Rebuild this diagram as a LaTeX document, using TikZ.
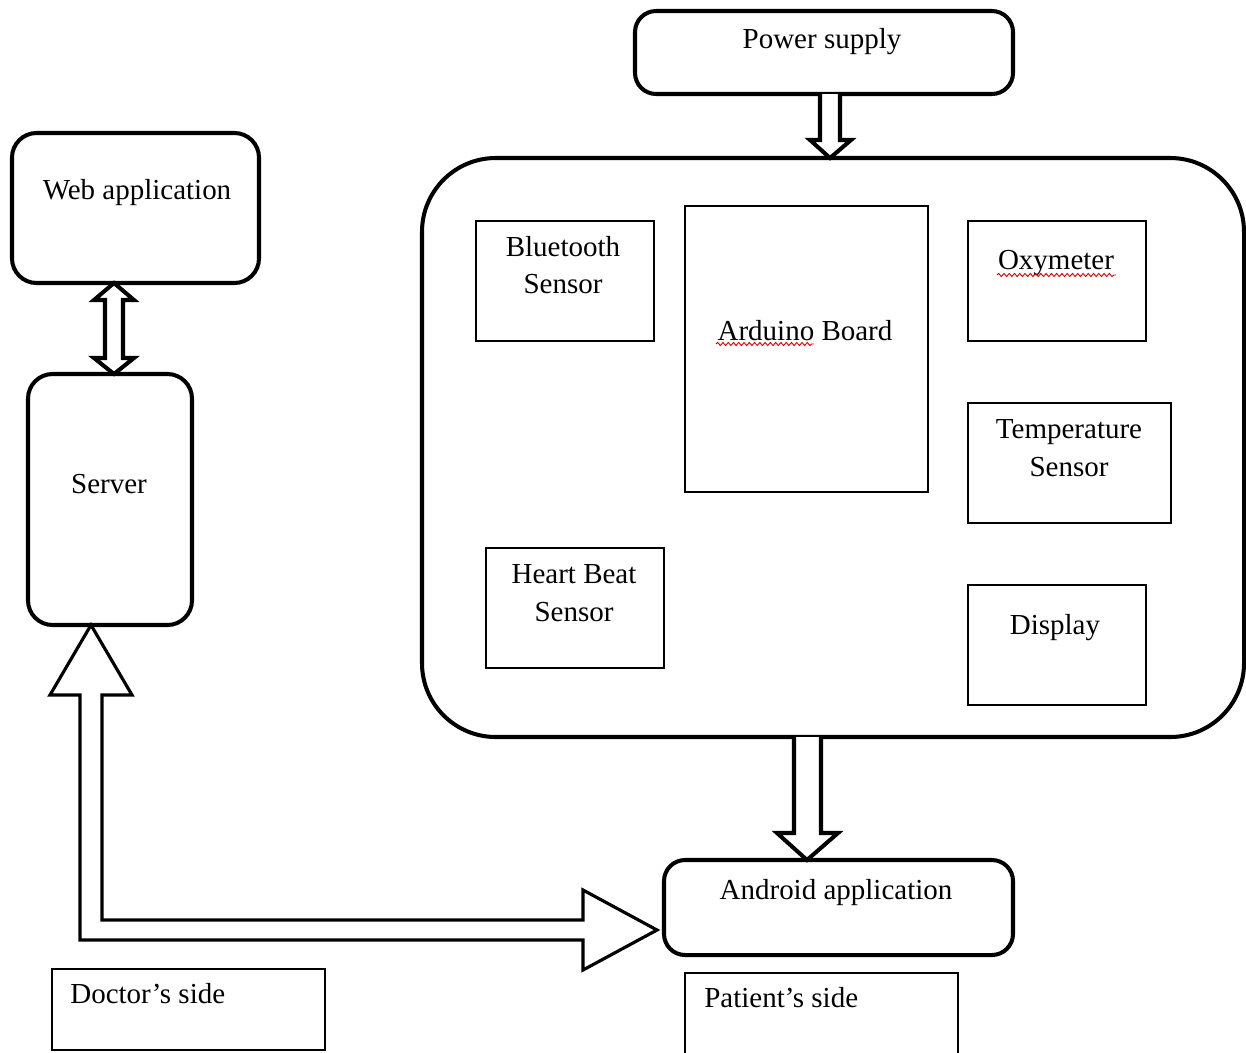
\documentclass[tikz,border=0pt]{standalone}
\usepackage{fontspec}
\setmainfont{Liberation Serif}
\usetikzlibrary{fit,decorations.pathmorphing}
\begin{document}
\begin{tikzpicture}[x=0.02cm,y=-0.02cm,
  thickbox/.style={draw, line width=2.3pt, inner sep=0pt},
  thinbox/.style={draw, line width=0.9pt, inner sep=0pt},
  blockarrow/.style={draw, line width=1.8pt, line join=miter, fill=white},
  smallarrow/.style={blockarrow, line width=2.3pt},
  txt/.style={font=\fontsize{16.5}{21.5}\selectfont, align=center, inner sep=0pt},
  spell/.style={draw=red!85!black, line width=0.5pt, decorate, decoration={snake, amplitude=0.9pt, segment length=3pt}}]
\useasboundingbox (0,0) rectangle (1246,1052);
\clip (0,0) rectangle (1246,1052);
% thick rounded boxes
\node[thickbox, rounded corners=12pt, fit={(635,11) (1013,94)}] (ps) {};
\node[thickbox, rounded corners=42pt, fit={(422,158) (1244,737)}] (board) {};
\node[thickbox, rounded corners=14pt, fit={(12,133) (259,283)}] (web) {};
\node[thickbox, rounded corners=14pt, fit={(28,374) (192,625)}] (server) {};
\node[thickbox, rounded corners=12pt, fit={(664,860) (1013,955)}] (android) {};
% thin boxes
\node[thinbox, fit={(476,221) (654,341)}] (bt) {};
\node[thinbox, fit={(685,206) (928,492)}] (ard) {};
\node[thinbox, fit={(968,221) (1146,341)}] (oxy) {};
\node[thinbox, fit={(968,403) (1171,523)}] (temp) {};
\node[thinbox, fit={(486,548) (664,668)}] (hb) {};
\node[thinbox, fit={(968,585) (1146,705)}] (disp) {};
\node[thinbox, fit={(52,969) (325,1050)}] (doc) {};
\node[thinbox, fit={(685,973) (958,1080)}] (pat) {};
% texts
\node[txt] (tps) at (822,42) {Power supply};
\node[txt] (tweb) at (137,193) {Web application};
\node[txt] (tserver) at (109,484) {Server};
\node[txt] (tandroid) at (836,893) {Android application};
\node[txt] (tbt) at (563,265) {Bluetooth\\Sensor};
\node[txt] (tard) at (805,331) {Arduino Board};
\node[txt] (toxy) at (1056,263) {Oxymeter};
\node[txt] (ttemp) at (1069,448) {Temperature\\Sensor};
\node[txt] (thb) at (574,593) {Heart Beat\\Sensor};
\node[txt] (tdisp) at (1055,628) {Display};
\node[txt, anchor=west] (tdoc) at (70,994) {Doctor’s side};
\node[txt, anchor=west] (tpat) at (704,998) {Patient’s side};
% spell-check underlines
\draw[spell] (716,344) -- (814,344);
\draw[spell] (997,275) -- (1116,275);
% block arrows
\draw[smallarrow] (820,94) -- (820,140) -- (810,140) -- (830,158) -- (851,140) -- (840,140) -- (840,94);
\draw[smallarrow] (114,283) -- (134,300) -- (123,300) -- (123,358) -- (134,358) -- (114,374)
  -- (94,358) -- (105,358) -- (105,300) -- (94,300) -- cycle;
\draw[smallarrow] (794,737) -- (794,833) -- (777,833) -- (807,860) -- (838,833) -- (821,833) -- (821,737);
\draw[blockarrow] (91,625) -- (132,695) -- (102,695) -- (102,920) -- (583,920) -- (583,890)
  -- (657,930) -- (583,970) -- (583,940) -- (80,940) -- (80,695) -- (50,695) -- cycle;
\end{tikzpicture}
\end{document}
